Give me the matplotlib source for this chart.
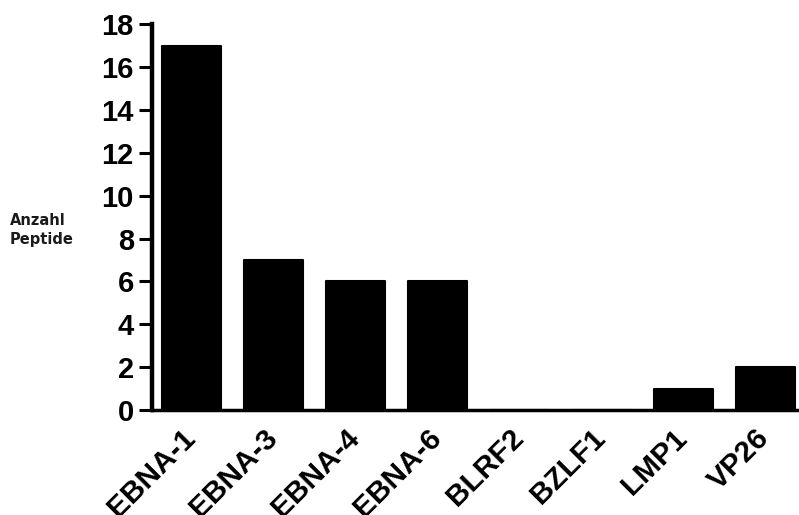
import matplotlib
matplotlib.use("Agg")
import matplotlib.pyplot as plt

categories = ["EBNA-1", "EBNA-3", "EBNA-4", "EBNA-6", "BLRF2", "BZLF1", "LMP1", "VP26"]
values = [17, 7, 6, 6, 0, 0, 1, 2]
yticks = [0, 2, 4, 6, 8, 10, 12, 14, 16, 18]

plt.rcParams['font.family'] = ['Liberation Sans', 'DejaVu Sans']

fig = plt.figure(figsize=(7.99, 5.15), dpi=100)
ax = fig.add_axes([0.190, 0.204, 0.8075, 0.749])

x = list(range(len(categories)))
ax.bar(x, values, width=0.72, color='black', edgecolor='black', linewidth=1.5,
       joinstyle='round', zorder=3)

ax.set_xlim(-0.48, 7.39)
ax.set_ylim(0, 18)
ax.set_yticks(yticks)
ax.set_yticklabels([str(v) for v in yticks], fontsize=21, fontweight='bold')
ax.set_xticks(x)
ax.set_xticklabels(categories, fontsize=21.5, fontweight='bold', rotation=45,
                   ha='right', va='center', rotation_mode='anchor')

for s in ['top', 'right']:
    ax.spines[s].set_visible(False)
ax.spines['left'].set_linewidth(3.2)
ax.spines['bottom'].set_linewidth(2.5)
ax.tick_params(axis='y', length=9.5, width=2.2, pad=3.5)
ax.tick_params(axis='x', length=0, pad=17)

fig.text(10/799, 1 - 230/515, "Anzahl\nPeptide", fontsize=10.5, fontweight='bold',
         family='DejaVu Sans', color='#1a1a1a', ha='left', va='center', linespacing=1.4)

fig.savefig("out.png", dpi=100)
